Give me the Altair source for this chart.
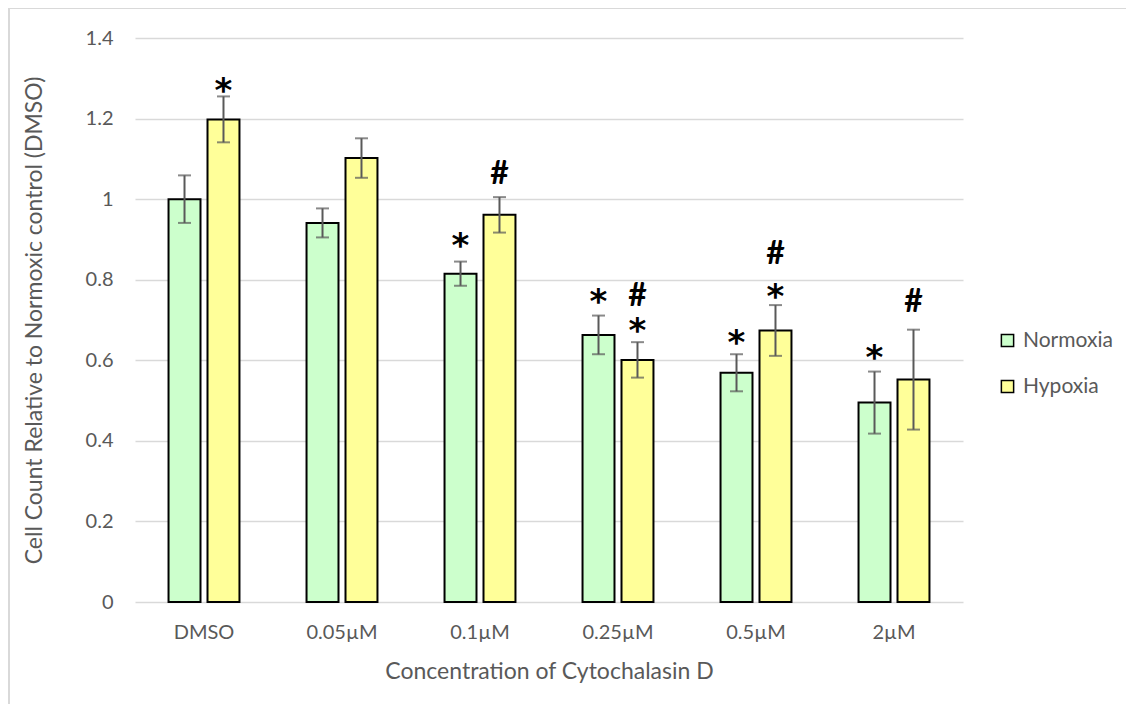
import altair as alt
import pandas as pd

# ---- data ----
concentrations = ["DMSO", "0.05µM", "0.1µM", "0.25µM", "0.5µM", "2µM"]
conditions = ["Normoxia", "Hypoxia"]
normoxia = [1.000, 0.941, 0.815, 0.663, 0.569, 0.495]
normoxia_err = [0.059, 0.036, 0.030, 0.048, 0.046, 0.077]
hypoxia = [1.198, 1.102, 0.961, 0.601, 0.674, 0.552]
hypoxia_err = [0.057, 0.049, 0.044, 0.044, 0.063, 0.124]

# significance annotations: (concentration, condition, symbol, height of symbol)
ann_conc = ["DMSO", "0.1µM", "0.1µM", "0.25µM", "0.25µM", "0.25µM", "0.5µM", "0.5µM", "0.5µM", "2µM", "2µM"]
ann_cond = ["Hypoxia", "Normoxia", "Hypoxia", "Normoxia", "Hypoxia", "Hypoxia", "Normoxia", "Hypoxia", "Hypoxia", "Normoxia", "Hypoxia"]
ann_label = ["*", "*", "#", "*", "*", "#", "*", "*", "#", "*", "#"]
ann_pos = [1.287, 0.901, 1.066, 0.762, 0.690, 0.761, 0.661, 0.774, 0.866, 0.623, 0.747]

colors = ["#CCFFCC", "#FFFF99"]
FONT = "Lato"
GREY = "#595959"

rows = []
for i, c in enumerate(concentrations):
    rows.append(dict(conc=c, cond="Normoxia", value=normoxia[i],
                     lo=normoxia[i] - normoxia_err[i], hi=normoxia[i] + normoxia_err[i]))
    rows.append(dict(conc=c, cond="Hypoxia", value=hypoxia[i],
                     lo=hypoxia[i] - hypoxia_err[i], hi=hypoxia[i] + hypoxia_err[i]))
df = pd.DataFrame(rows)
ann = pd.DataFrame(dict(conc=ann_conc, cond=ann_cond, label=ann_label, pos=ann_pos))

x_enc = alt.X("conc:N", sort=concentrations,
              scale=alt.Scale(paddingInner=0.486, paddingOuter=0.243),
              axis=alt.Axis(title="Concentration of Cytochalasin D", labelAngle=0,
                            domain=False, ticks=False, labelPadding=20,
                            titlePadding=18))
xo_enc = alt.XOffset("cond:N", sort=conditions,
                     scale=alt.Scale(paddingInner=0.18, paddingOuter=0))
y_scale = alt.Scale(domain=[0, 1.4], nice=False)

bars = alt.Chart(df).mark_bar(stroke="black", strokeWidth=2).encode(
    x=x_enc,
    xOffset=xo_enc,
    y=alt.Y("value:Q", scale=y_scale,
            axis=alt.Axis(title="Cell Count Relative to Normoxic control (DMSO)",
                          values=[0, 0.2, 0.4, 0.6, 0.8, 1.0, 1.2, 1.4],
                          format="~g", domain=False, ticks=False,
                          labelPadding=22, titlePadding=39)),
    color=alt.Color("cond:N", sort=conditions,
                    scale=alt.Scale(domain=conditions, range=colors),
                    legend=alt.Legend(title=None, orient="none", legendX=862, legendY=292,
                                      symbolType="square", symbolSize=150,
                                      symbolStrokeColor="black", symbolStrokeWidth=1.5,
                                      labelFontSize=21, labelColor=GREY, labelFont=FONT,
                                      rowPadding=24, labelOffset=5)),
)

err = alt.Chart(df).mark_rule(color=GREY, strokeWidth=2).encode(
    x=alt.X("conc:N", sort=concentrations),
    xOffset=alt.XOffset("cond:N", sort=conditions),
    y="lo:Q", y2="hi:Q",
)
cap_hi = alt.Chart(df).mark_tick(color=GREY, thickness=2, size=13, orient="horizontal").encode(
    x=alt.X("conc:N", sort=concentrations),
    xOffset=alt.XOffset("cond:N", sort=conditions),
    y="hi:Q",
)
cap_lo = alt.Chart(df).mark_tick(color=GREY, thickness=2, size=13, orient="horizontal").encode(
    x=alt.X("conc:N", sort=concentrations),
    xOffset=alt.XOffset("cond:N", sort=conditions),
    y="lo:Q",
)

stars = alt.Chart(ann).transform_filter(alt.datum.label == "*").mark_text(
    font="DejaVu Sans", fontSize=34, fontWeight="bold", color="black",
    baseline="alphabetic", dy=18
).encode(
    x=alt.X("conc:N", sort=concentrations),
    xOffset=alt.XOffset("cond:N", sort=conditions),
    y="pos:Q", text="label:N",
)
hashes = alt.Chart(ann).transform_filter(alt.datum.label == "#").mark_text(
    font=FONT, fontSize=32, fontWeight="bold", color="black", baseline="middle", dy=1
).encode(
    x=alt.X("conc:N", sort=concentrations),
    xOffset=alt.XOffset("cond:N", sort=conditions),
    y="pos:Q", text="label:N",
)

# outer chart frame (decorative border)
frame_top = alt.Chart(df).mark_rule(color="#d9d9d9", strokeWidth=2).encode(
    x=alt.value(-126), x2=alt.value(1000), y=alt.value(-30))
frame_left = alt.Chart(df).mark_rule(color="#d9d9d9", strokeWidth=2).encode(
    x=alt.value(-126), y=alt.value(-30), y2=alt.value(672))

chart = alt.layer(bars, err, cap_hi, cap_lo, stars, hashes, frame_top, frame_left).properties(
    width=828, height=564,
    padding={"left": 127, "top": 30, "right": 163, "bottom": 102},
    autosize=alt.AutoSizeParams(type="none"),
).configure_view(stroke=None).configure_axis(
    labelFont=FONT, titleFont=FONT, labelColor=GREY, titleColor=GREY,
    labelFontSize=20, titleFontSize=23, titleFontWeight="normal",
    gridColor="#d9d9d9", gridWidth=1.5,
).configure_axisX(grid=False)

chart.save("out.html", embed_options={"renderer": "svg", "actions": False})
